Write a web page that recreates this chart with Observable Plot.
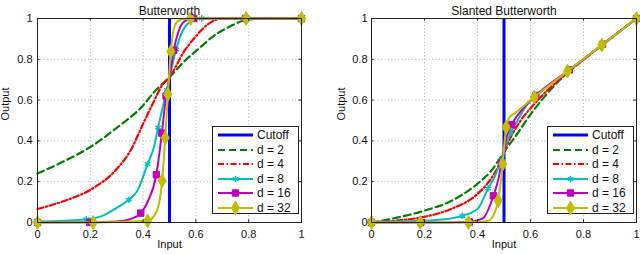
<!DOCTYPE html>
<html>
<head>
<meta charset="utf-8">
<script src="https://cdn.jsdelivr.net/npm/d3@7"></script>
<script src="https://cdn.jsdelivr.net/npm/@observablehq/plot@0.6"></script>
<style>
  html, body { margin: 0; padding: 0; background: #fff; }
  #wrap { position: relative; width: 640px; height: 254px; display: flex; font-family: "Liberation Sans", Arial, Helvetica, sans-serif; }
  #wrap svg { display: block; }
  .legend { position: absolute; width: 87px; height: 88px; border: 1px solid #222; background: #fff; box-sizing: border-box; }
  .legend .row { position: absolute; left: 0; height: 14px; display: flex; align-items: center; font-size: 12px; color: #111; white-space: nowrap; }
</style>
</head>
<body>
<div id="wrap"></div>
<script>
// ---------- data ----------
const xTicks = [0, 0.2, 0.4, 0.6, 0.8, 1];
const tickLabels = ["0", "0.2", "0.4", "0.6", "0.8", "1"];
const gridTicks = [0.2, 0.4, 0.6, 0.8];
const cutoff = 0.5;
const seriesNames = ["Cutoff", "d = 2", "d = 4", "d = 8", "d = 16", "d = 32"];
const titles = ["Butterworth", "Slanted Butterworth"];
const xLabel = "Input";
const yLabel = "Output";

// Butterworth (left panel)
const L2x = [0, 0.1, 0.2, 0.3, 0.4, 0.44, 0.5, 0.554, 0.605, 0.68, 0.731, 0.781, 0.85, 1];
const L2y = [0.24, 0.30, 0.37, 0.464, 0.574, 0.637, 0.712, 0.787, 0.846, 0.926, 0.962, 0.99, 1, 1];
const L4x = [0, 0.1, 0.2, 0.3, 0.352, 0.4, 0.434, 0.472, 0.504, 0.554, 0.598, 0.649, 0.69, 0.8, 1];
const L4y = [0.066, 0.105, 0.16, 0.262, 0.352, 0.484, 0.575, 0.672, 0.72, 0.836, 0.91, 0.975, 0.998, 1, 1];
const L8x = [0, 0.1, 0.185, 0.25, 0.3, 0.346, 0.38, 0.417, 0.44, 0.457, 0.475, 0.49, 0.5, 0.525, 0.55, 0.58, 0.622, 0.8, 1];
const L8y = [0.005, 0.009, 0.016, 0.035, 0.072, 0.111, 0.16, 0.287, 0.365, 0.465, 0.57, 0.65, 0.707, 0.848, 0.94, 0.985, 1, 1, 1];
const L8mx = [0, 0.185, 0.346, 0.417, 0.457, 0.49, 0.525, 0.622, 0.8, 1];
const L8my = [0.005, 0.016, 0.111, 0.287, 0.465, 0.65, 0.848, 1, 1, 1];
const L16x = [0, 0.198, 0.3, 0.35, 0.391, 0.42, 0.45, 0.471, 0.487, 0.5, 0.516, 0.535, 0.56, 0.592, 0.788, 1];
const L16y = [0, 0.001, 0.005, 0.016, 0.046, 0.11, 0.234, 0.438, 0.62, 0.71, 0.844, 0.94, 0.988, 1, 1, 1];
const L16mx = [0, 0.198, 0.391, 0.45, 0.471, 0.487, 0.516, 0.592, 0.788, 1];
const L16my = [0, 0, 0.046, 0.234, 0.438, 0.62, 0.844, 1, 1, 1];
const L32x = [0, 0.211, 0.417, 0.44, 0.46, 0.472, 0.484, 0.494, 0.505, 0.515, 0.53, 0.55, 0.58, 0.79, 1];
const L32y = [0, 0, 0.008, 0.03, 0.09, 0.205, 0.415, 0.628, 0.838, 0.94, 0.985, 0.998, 1, 1, 1];
const L32mx = [0, 0.211, 0.417, 0.472, 0.484, 0.494, 0.505, 0.58, 0.79, 1];
const L32my = [0, 0, 0.008, 0.205, 0.415, 0.628, 0.838, 1, 1, 1];

// Slanted Butterworth (right panel)
const R2x = [0, 0.1, 0.2, 0.3, 0.4, 0.45, 0.5, 0.55, 0.6, 0.65, 0.7, 0.75, 0.8, 0.87, 1];
const R2y = [0, 0.025, 0.058, 0.105, 0.19, 0.25, 0.345, 0.435, 0.53, 0.612, 0.685, 0.748, 0.8, 0.87, 1];
const R4x = [0, 0.1, 0.2, 0.3, 0.4, 0.45, 0.48, 0.5, 0.53, 0.563, 0.6, 0.664, 0.727, 0.8, 0.87, 1];
const R4y = [0, 0.01, 0.028, 0.066, 0.14, 0.213, 0.28, 0.345, 0.43, 0.5, 0.56, 0.648, 0.72, 0.798, 0.87, 1];
const R8x = [0, 0.18, 0.3, 0.343, 0.4, 0.44, 0.47, 0.49, 0.5, 0.525, 0.551, 0.589, 0.62, 0.745, 0.87, 1];
const R8y = [0.003, 0.008, 0.02, 0.033, 0.066, 0.167, 0.24, 0.315, 0.35, 0.44, 0.5, 0.58, 0.62, 0.745, 0.87, 1];
const R8mx = [0, 0.18, 0.343, 0.44, 0.485, 0.525, 0.62, 0.745, 0.87, 1];
const R8my = [0.003, 0.008, 0.033, 0.167, 0.3, 0.44, 0.62, 0.745, 0.87, 1];
const R16x = [0, 0.186, 0.369, 0.42, 0.46, 0.48, 0.49, 0.5, 0.51, 0.529, 0.56, 0.62, 0.746, 0.872, 1];
const R16y = [0, 0, 0.003, 0.02, 0.131, 0.22, 0.29, 0.35, 0.42, 0.48, 0.54, 0.623, 0.748, 0.874, 1];
const R16mx = [0, 0.186, 0.369, 0.46, 0.49, 0.529, 0.62, 0.746, 0.872, 1];
const R16my = [0, 0, 0.003, 0.131, 0.29, 0.48, 0.623, 0.748, 0.874, 1];
const R32x = [0, 0.184, 0.366, 0.44, 0.465, 0.478, 0.495, 0.508, 0.52, 0.54, 0.614, 0.74, 0.869, 1];
const R32y = [0, 0, 0, 0.008, 0.05, 0.107, 0.287, 0.467, 0.515, 0.535, 0.615, 0.742, 0.87, 1];
const R32mx = [0, 0.184, 0.366, 0.478, 0.495, 0.508, 0.614, 0.74, 0.869, 1];
const R32my = [0, 0, 0, 0.107, 0.287, 0.467, 0.615, 0.742, 0.87, 1];

// ---------- styles ----------
const FONT = '"Liberation Sans", Arial, Helvetica, sans-serif';
const styles = [
  {color: "#0000ff", width: 3, dash: null, symbol: null},
  {color: "#008000", width: 2.2, dash: "7,4", symbol: null},
  {color: "#ff0000", width: 2.2, dash: "6,2.5,1.5,2.5", symbol: null},
  {color: "#00bfbf", width: 2, dash: null, symbol: "asterisk", r: 3, filled: false},
  {color: "#bf00bf", width: 2, dash: null, symbol: "square", r: 3.6, filled: true},
  {color: "#bfbf00", width: 2, dash: null, symbol: "diamond", r: 4.2, filled: true}
];

const rows = (xs, ys) => xs.map((x, i) => ({x, y: ys[i]}));

function panel({title, lines, markers, marginLeft, marginRight, yLabelDx, yTickPad}) {
  const marks = [
    Plot.ruleX(gridTicks, {x: d => d, stroke: "#b0b0b0", strokeWidth: 1, strokeDasharray: "1,2.4"}),
    Plot.ruleY(gridTicks, {y: d => d, stroke: "#b0b0b0", strokeWidth: 1, strokeDasharray: "1,2.4"}),
    Plot.ruleX([cutoff], {x: d => d, y1: 0, y2: 1, stroke: styles[0].color, strokeWidth: styles[0].width})
  ];
  lines.forEach((ln, k) => {
    const s = styles[k + 1];
    marks.push(Plot.line(ln, {x: "x", y: "y", stroke: s.color, strokeWidth: s.width,
      strokeDasharray: s.dash || undefined, curve: "monotone-x", strokeLinejoin: "round"}));
    const m = markers[k];
    if (m) {
      marks.push(Plot.dot(m, {x: "x", y: "y", symbol: s.symbol, r: s.r,
        fill: s.filled ? s.color : "none", stroke: s.color, strokeWidth: s.filled ? 1 : 1.5}));
    }
  });
  marks.push(
    Plot.frame({stroke: "#222", strokeWidth: 1}),
    Plot.ruleX(xTicks, {x: d => d, y1: 0, y2: 0.013, stroke: "#222"}),
    Plot.ruleX(xTicks, {x: d => d, y1: 1, y2: 0.987, stroke: "#222"}),
    Plot.ruleY(xTicks, {y: d => d, x1: 0, x2: 0.01, stroke: "#222"}),
    Plot.ruleY(xTicks, {y: d => d, x1: 1, x2: 0.99, stroke: "#222"}),
    Plot.axisX(xTicks, {anchor: "bottom", tickSize: 0, tickPadding: 7.5, label: null,
      tickFormat: d => tickLabels[xTicks.indexOf(d)], fontSize: 11, fill: "#111"}),
    Plot.axisY(xTicks, {anchor: "left", tickSize: 0, tickPadding: yTickPad, label: null,
      tickFormat: d => tickLabels[xTicks.indexOf(d)], fontSize: 11, fill: "#111"}),
    Plot.text([title], {text: d => d, frameAnchor: "top", dy: -12, fontSize: 12, fill: "#111"}),
    Plot.text([xLabel], {text: d => d, frameAnchor: "bottom", dy: 25.5, fontSize: 11, fill: "#111"}),
    Plot.text([yLabel], {text: d => d, frameAnchor: "left", dx: yLabelDx, rotate: -90, fontSize: 11, fill: "#111"})
  );
  return Plot.plot({
    width: 320, height: 254,
    marginLeft, marginRight, marginTop: 18, marginBottom: 32,
    x: {domain: [0, 1]},
    y: {domain: [0, 1]},
    style: {fontFamily: FONT, fontSize: "11px", background: "#fff", color: "#111", overflow: "visible"},
    marks
  });
}

function legend(left, top) {
  const box = document.createElement("div");
  box.className = "legend";
  box.style.left = left + "px";
  box.style.top = top + "px";
  seriesNames.forEach((name, i) => {
    const s = styles[i];
    const row = document.createElement("div");
    row.className = "row";
    row.style.top = (1 + i * 14.6) + "px";
    const svg = d3.create("svg").attr("width", 44).attr("height", 14).style("flex", "none");
    svg.append("line").attr("x1", 5).attr("x2", 40).attr("y1", 7).attr("y2", 7)
      .attr("stroke", s.color).attr("stroke-width", s.width)
      .attr("stroke-dasharray", s.dash);
    if (s.symbol) {
      const type = {asterisk: d3.symbolAsterisk, square: d3.symbolSquare, diamond: d3.symbolDiamond}[s.symbol];
      svg.append("path").attr("transform", "translate(22.5,7)")
        .attr("d", d3.symbol(type, Math.PI * s.r * s.r)())
        .attr("fill", s.filled ? s.color : "none").attr("stroke", s.color)
        .attr("stroke-width", s.filled ? 1 : 1.5);
    }
    row.appendChild(svg.node());
    const t = document.createElement("span");
    t.textContent = name;
    row.appendChild(t);
    box.appendChild(row);
  });
  return box;
}

const wrap = document.getElementById("wrap");
wrap.appendChild(panel({
  title: titles[0],
  lines: [rows(L2x, L2y), rows(L4x, L4y), rows(L8x, L8y), rows(L16x, L16y), rows(L32x, L32y)],
  markers: [null, null, rows(L8mx, L8my), rows(L16mx, L16my), rows(L32mx, L32my)],
  marginLeft: 37, marginRight: 19, yLabelDx: -32, yTickPad: 5
}));
wrap.appendChild(panel({
  title: titles[1],
  lines: [rows(R2x, R2y), rows(R4x, R4y), rows(R8x, R8y), rows(R16x, R16y), rows(R32x, R32y)],
  markers: [null, null, rows(R8mx, R8my), rows(R16mx, R16my), rows(R32mx, R32my)],
  marginLeft: 51, marginRight: 4, yLabelDx: -30, yTickPad: 4
}));
wrap.appendChild(legend(212, 126));
wrap.appendChild(legend(547, 126));
</script>
</body>
</html>
